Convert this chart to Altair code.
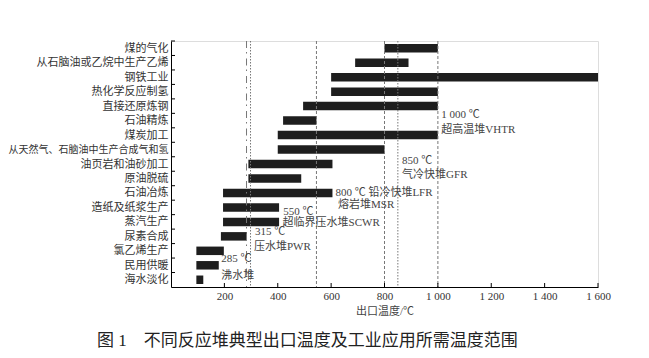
import altair as alt
import pandas as pd

categories = ["煤的气化", "从石脑油或乙烷中生产乙烯", "钢铁工业", "热化学反应制氢", "直接还原炼钢",
              "石油精炼", "煤炭加工", "从天然气、石脑油中生产合成气和氢", "油页岩和油砂加工", "原油脱硫",
              "石油冶炼", "造纸及纸浆生产", "蒸汽生产", "尿素合成", "氯乙烯生产", "民用供暖", "海水淡化"]
t_low = [800, 690, 600, 600, 495, 420, 400, 400, 290, 290, 195, 195, 195, 187, 95, 95, 95]
t_high = [1000, 890, 1600, 1000, 1000, 545, 1000, 800, 605, 488, 605, 405, 405, 284, 198, 179, 121]

line_temp = [283, 298, 545, 800, 850, 1000]
line_style = ["dashdot", "dot", "dash", "dash", "dot", "dash"]

ann_text = ["1 000 ℃", "超高温堆VHTR", "850 ℃", "气冷快堆GFR", "800 ℃ 铅冷快堆LFR", "熔岩堆MSR",
            "550 ℃", "超临界压水堆SCWR", "315 ℃", "压水堆PWR", "285 ℃", "沸水堆"]
ann_temp = [1013, 1013, 866, 866, 616, 626, 421, 418, 315, 311, 188, 188]
ann_row = [5.11, 6.15, 8.27, 9.26, 10.47, 11.33, 11.84, 12.56, 13.18, 14.22, 15.09, 16.24]

x_ticks = [200, 400, 600, 800, 1000, 1200, 1400, 1600]

FONT = "Liberation Serif, Noto Sans CJK SC"
W, H = 427, 246
n = len(categories)

bars_df = pd.DataFrame({"cat": categories, "lo": t_low, "hi": t_high,
                        "row": [i + 0.5 for i in range(n)]})
lines_df = pd.DataFrame({"t": line_temp, "style": line_style})
ann_df = pd.DataFrame({"text": ann_text, "t": ann_temp, "row": ann_row})
ytick_df = pd.DataFrame({"edge": list(range(n))})
xtick_df = pd.DataFrame({"t": x_ticks})

xscale = alt.Scale(domain=[0, 1600], nice=False, zero=False)
yscale = alt.Scale(domain=[0, n], reverse=True, nice=False, zero=False)

label_array = "[" + ",".join("'" + c + "'" for c in categories) + "]"

xaxis = alt.Axis(values=x_ticks, ticks=False, grid=False, domainColor="#000", domainWidth=1,
                 labelExpr="replace(format(datum.value, ','), ',', ' ')",
                 labelFont=FONT, labelFontSize=11, labelColor="#333", labelPadding=3,
                 labelFlush=False, labelOverlap=False,
                 title="出口温度/℃", titleFont=FONT, titleFontSize=11, titleFontWeight="normal",
                 titleColor="#444", titlePadding=4)
yaxis = alt.Axis(values=[i + 0.5 for i in range(n)], ticks=False, grid=False,
                 domainColor="#000", domainWidth=1,
                 labelExpr=label_array + "[floor(datum.value)]",
                 labelFont=FONT,
                 labelFontSize={"condition": {"test": "datum.value == 7.5", "value": 10}, "value": 11},
                 labelColor="#333", labelPadding=3, labelOverlap=False, labelLimit=0,
                 labelBound=False, title=None)

bars = alt.Chart(bars_df).mark_rule(strokeWidth=8.5, color="#1e1e1e", strokeCap="butt").encode(
    x=alt.X("lo:Q", scale=xscale, axis=xaxis),
    x2="hi:Q",
    y=alt.Y("row:Q", scale=yscale, axis=yaxis),
)

vlines = alt.Chart(lines_df).mark_rule(color="#777", strokeWidth=1).encode(
    x=alt.X("t:Q", scale=xscale, axis=xaxis),
    y=alt.value(0), y2=alt.value(H),
    strokeDash=alt.StrokeDash("style:N", legend=None,
                              scale=alt.Scale(domain=["dashdot", "dot", "dash"],
                                              range=[[7, 4, 1.5, 5], [1.5, 1.5], [3, 2]])),
)

yticks = alt.Chart(ytick_df).mark_rule(color="#000", strokeWidth=1).encode(
    x=alt.value(0), x2=alt.value(4),
    y=alt.Y("edge:Q", scale=yscale, axis=yaxis),
)

xticks = alt.Chart(xtick_df).mark_rule(color="#000", strokeWidth=1).encode(
    x=alt.X("t:Q", scale=xscale, axis=xaxis),
    y=alt.value(H), y2=alt.value(H - 4),
)

ann = alt.Chart(ann_df).mark_text(align="left", baseline="middle", font=FONT,
                                  fontSize=11, color="#444").encode(
    x=alt.X("t:Q", scale=xscale, axis=xaxis),
    y=alt.Y("row:Q", scale=yscale, axis=yaxis),
    text="text:N",
)

chart = alt.layer(bars, vlines, yticks, xticks, ann).properties(
    width=W, height=H,
    title=alt.TitleParams(text="图 1　不同反应堆典型出口温度及工业应用所需温度范围",
                          orient="bottom", anchor="start", frame="group", dx=-74, offset=17,
                          fontSize=17, font=FONT, fontWeight="normal", color="#222",
                          baseline="top"),
    autosize=alt.AutoSizeParams(type="none"),
    padding={"left": 163, "top": 33, "right": 43, "bottom": 63},
).configure_view(stroke=None).configure(background="white")

chart.save("out.html", embed_options={"renderer": "svg", "actions": False})
